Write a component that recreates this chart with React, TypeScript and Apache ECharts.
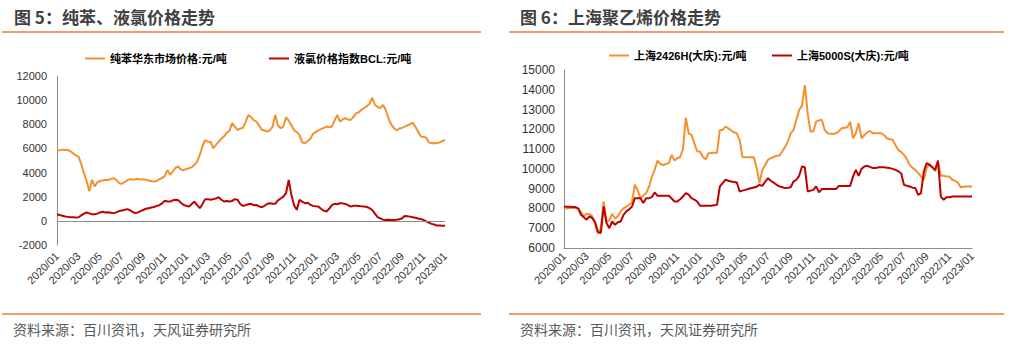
import React, { useEffect, useRef } from "react";
import * as echarts from "echarts";

// Tick labels (one per month, shown every second month)
const tickMonths = [
  "2020/01", "2020/02", "2020/03", "2020/04", "2020/05", "2020/06", "2020/07", "2020/08", "2020/09", "2020/10", "2020/11", "2020/12",
  "2021/01", "2021/02", "2021/03", "2021/04", "2021/05", "2021/06", "2021/07", "2021/08", "2021/09", "2021/10", "2021/11", "2021/12",
  "2022/01", "2022/02", "2022/03", "2022/04", "2022/05", "2022/06", "2022/07", "2022/08", "2022/09", "2022/10", "2022/11", "2022/12",
  "2023/01",
];
const weeksPerMonth = ["w1", "w2", "w3", "w4"];
// Weekly categories: 4 per month, ending on 2023/01
const categories: string[] = [];
tickMonths.forEach((m, i) => {
  if (i < tickMonths.length - 1) weeksPerMonth.forEach((w) => categories.push(m + "-" + w));
  else categories.push(m + "-w1");
});

// 图5 series (元/吨)
const benzene = [
  5820, 5850, 5900, 5870, 5880, 5750, 5600, 5420, 5320, 4700, 3950, 3300,
  2450, 3400, 2850, 3200, 3300, 3350, 3400, 3380, 3480, 3530, 3400, 3150,
  3060, 3200, 3350, 3450, 3430, 3450, 3480, 3420, 3450, 3400, 3350, 3300,
  3250, 3300, 3450, 3550, 3700, 4220, 3810, 4100, 4400, 4500, 4250, 4200,
  4300, 4360, 4450, 4640, 4900, 5460, 6200, 6700, 6550, 6560, 6010, 6300,
  6560, 6800, 7000, 7300, 7450, 8090, 7800, 7530, 7650, 7700, 8200, 8770,
  8600, 8350, 8220, 7900, 7550, 7480, 7400, 7500, 7800, 8770, 7900, 7670,
  7810, 8580, 8300, 7900, 7500, 7350, 7100, 6500, 6430, 6620, 6800, 7200,
  7350, 7500, 7600, 7700, 7810, 7750, 7810, 8300, 8770, 8220, 8400, 8500,
  8400, 8360, 8600, 8900, 9000, 9200, 9350, 9500, 9700, 10200, 9600, 9450,
  9330, 9600, 9200, 8500, 8000, 7700, 7500, 7650, 7700, 7800, 7900, 8000,
  8140, 7800, 7400, 7000, 6950, 6900, 6500, 6430, 6450, 6420, 6500, 6600,
  6700,
];
const chlorine = [
  550, 480, 420, 360, 330, 300, 290, 280, 300, 450, 600, 690,
  620, 550, 550, 600, 700, 750, 700, 720, 680, 640, 700, 800,
  850, 900, 970, 900, 750, 640, 700, 800, 900, 1000, 1050, 1100,
  1150, 1240, 1300, 1450, 1660, 1600, 1600, 1700, 1740, 1700, 1500, 1320,
  1250, 1180, 1400, 1600, 1300, 1050, 1400, 1800, 1800, 1750, 1800, 1850,
  1960, 1750, 1600, 1650, 1600, 1650, 1800, 1750, 1400, 1240, 1300, 1380,
  1410, 1300, 1320, 1200, 1130, 1250, 1400, 1460, 1420, 1410, 1700, 1850,
  2010, 2290, 3390, 2150, 1300, 910, 1740, 1600, 1460, 1500, 1350, 1240,
  1200, 1180, 1000, 850, 770, 1000, 1300, 1410, 1380, 1460, 1450, 1400,
  1300, 1180, 1250, 1250, 1240, 1200, 1180, 1150, 1050, 900, 600, 300,
  200, 100, 80, 90, 80, 80, 100, 140, 200, 410, 380, 350,
  300, 250, 200, 150, 80, -50, -150, -250, -300, -390, -390, -400,
  -400,
];

// 图6 series (元/吨)
const pe2426H = [
  8020, 8000, 8020, 8020, 8020, 8000, 7800, 7600, 7730, 7700, 7600, 7200,
  6760, 7000, 8350, 7340, 7400, 7730, 7500, 7600, 7850, 8000, 8100, 8200,
  8300, 9200, 8930, 8520, 8650, 8770, 9100, 9600, 9950, 10420, 10250, 10200,
  10250, 10290, 10710, 10420, 10540, 10600, 11000, 12590, 11800, 11720, 11300, 10880,
  10880, 10600, 10490, 10790, 10800, 10820, 10820, 11970, 11970, 12140, 12050, 11940,
  11850, 11800, 11470, 10590, 10590, 10590, 10590, 10590, 10040, 9280, 9950, 10200,
  10460, 10540, 10600, 10670, 10670, 10880, 11100, 11380, 11800, 11970, 12480, 12980,
  13200, 14240, 12810, 11890, 11900, 12390, 12450, 12480, 11970, 11800, 11780, 11760,
  11800, 11900, 12060, 12080, 12100, 12390, 11550, 11800, 12310, 11550, 11700, 11850,
  11920, 11800, 11800, 11800, 11800, 11700, 11550, 11500, 11470, 11200, 10960, 10850,
  10710, 10500, 10200, 10050, 9950, 9800, 9610, 9450, 10040, 10250, 10100, 9870,
  10370, 9650, 9650, 9610, 9610, 9450, 9400, 9310, 9070, 9100, 9110, 9110,
  9110,
];
const pe5000S = [
  8100, 8080, 8080, 8070, 8070, 8000, 7680, 7550, 7430, 7600, 7510, 7300,
  6800, 6760, 8100, 7260, 7000, 7340, 7170, 7300, 7340, 7680, 7850, 7950,
  8100, 8520, 8520, 8520, 8270, 8520, 8520, 8570, 8810, 8640, 8640, 8640,
  8640, 8640, 8500, 8350, 8350, 8470, 8600, 8770, 8700, 8520, 8450, 8350,
  8140, 8140, 8140, 8140, 8140, 8160, 8180, 9110, 9280, 9450, 9400, 9360,
  9340, 9310, 8860, 8900, 8940, 8980, 9020, 9060, 9100, 9190, 9140, 9350,
  9530, 9400, 9310, 9200, 9110, 9080, 9030, 9040, 9070, 9360, 9450, 9650,
  10120, 10080, 8860, 8900, 8940, 9110, 8810, 8980, 8980, 8980, 8980, 8980,
  8980, 9140, 9140, 9140, 9140, 9140, 9610, 9950, 9650, 10000, 10120, 10160,
  10100, 10040, 10040, 10080, 10080, 10080, 10060, 10040, 10000, 9950, 9870, 9780,
  9190, 9150, 9110, 9050, 9030, 8690, 8770, 9870, 10290, 10200, 10080, 9950,
  10420, 8600, 8440, 8570, 8570, 8600, 8600, 8600, 8600, 8600, 8600, 8600,
  8600,
];

const seriesNames = ["纯苯华东市场价格:元/吨", "液氯价格指数BCL:元/吨", "上海2426H(大庆):元/吨", "上海5000S(大庆):元/吨"];
const titles = ["图 5：纯苯、液氯价格走势", "图 6：上海聚乙烯价格走势"];
const sourceText = "资料来源：百川资讯，天风证券研究所";

const ORANGE = "#F5902E";
const RED = "#C00000";
const AXIS = "#8C8C8C";
const FONT = '"Liberation Sans", Arial, "Noto Sans CJK SC", sans-serif';

export default function App() {
  const ref = useRef<HTMLDivElement>(null);
  useEffect(() => {
    if (!ref.current) return;
    const chart = echarts.init(ref.current, null, { renderer: "svg" });
    const xAxisBase = (gridIndex: number, showLine: boolean, margin: number) => ({
      type: "category",
      gridIndex,
      data: categories,
      boundaryGap: false,
      axisTick: { show: false },
      axisLine: { show: showLine, onZero: false, lineStyle: { color: AXIS, width: 1 } },
      axisLabel: {
        interval: (i: number) => i % 8 === 0,
        rotate: 45,
        fontSize: 11,
        color: "#333",
        margin,
        fontFamily: FONT,
        formatter: (v: string) => v.split("-")[0],
      },
      splitLine: { show: false },
    });
    const legendBase = (name: string, left: number, top: number) => ({
      data: [name],
      left,
      top,
      icon: "rect",
      itemWidth: 20,
      itemHeight: 2,
      itemGap: 0,
      textStyle: { fontSize: 11, fontWeight: "bold", color: "#000", fontFamily: FONT },
    });
    const plain = (v: number) => String(v);
    const option = {
      animation: false,
      textStyle: { fontFamily: FONT },
      grid: [
        { left: 57, top: 76, width: 388, height: 169 },
        { left: 564, top: 70, width: 408, height: 178 },
      ],
      legend: [
        legendBase(seriesNames[0], 80, 48),
        legendBase(seriesNames[1], 264, 48),
        legendBase(seriesNames[2], 604, 45),
        legendBase(seriesNames[3], 767, 45),
      ],
      xAxis: [xAxisBase(0, false, 9), xAxisBase(1, true, 6)],
      yAxis: [
        {
          type: "value",
          gridIndex: 0,
          min: -2000,
          max: 12000,
          interval: 2000,
          axisLine: { show: true, lineStyle: { color: AXIS, width: 1 } },
          axisTick: { show: false },
          splitLine: { show: false },
          axisLabel: { fontSize: 11, color: "#333", margin: 10, fontFamily: FONT, formatter: plain },
        },
        {
          type: "value",
          gridIndex: 1,
          min: 6000,
          max: 15000,
          interval: 1000,
          axisLine: { show: true, lineStyle: { color: AXIS, width: 1 } },
          axisTick: { show: false },
          splitLine: { show: false },
          axisLabel: { fontSize: 12, color: "#333", margin: 9, fontFamily: FONT, formatter: plain },
        },
      ],
      series: [
        {
          name: seriesNames[0],
          type: "line",
          xAxisIndex: 0,
          yAxisIndex: 0,
          data: benzene,
          showSymbol: false,
          color: ORANGE,
          lineStyle: { width: 2, color: ORANGE },
          markLine: {
            silent: true,
            symbol: "none",
            label: { show: false },
            lineStyle: { color: AXIS, width: 1, type: "solid" },
            data: [{ yAxis: 0 }],
          },
        },
        {
          name: seriesNames[1],
          type: "line",
          xAxisIndex: 0,
          yAxisIndex: 0,
          data: chlorine,
          showSymbol: false,
          color: RED,
          lineStyle: { width: 2, color: RED },
        },
        {
          name: seriesNames[2],
          type: "line",
          xAxisIndex: 1,
          yAxisIndex: 1,
          data: pe2426H,
          showSymbol: false,
          color: ORANGE,
          lineStyle: { width: 2, color: ORANGE },
        },
        {
          name: seriesNames[3],
          type: "line",
          xAxisIndex: 1,
          yAxisIndex: 1,
          data: pe5000S,
          showSymbol: false,
          color: RED,
          lineStyle: { width: 2, color: RED },
        },
      ],
      graphic: [
        {
          type: "text",
          left: 14,
          top: 8,
          style: { text: titles[0], font: 'bold 17px "Noto Sans CJK SC", sans-serif', fill: "#404040" },
        },
        {
          type: "text",
          left: 520,
          top: 8,
          style: { text: titles[1], font: 'bold 17px "Noto Sans CJK SC", sans-serif', fill: "#404040" },
        },
        { type: "line", shape: { x1: 2, y1: 32, x2: 481, y2: 32 }, style: { stroke: "#ED7D31", lineWidth: 1.5 } },
        { type: "line", shape: { x1: 509, y1: 32, x2: 1004, y2: 32 }, style: { stroke: "#ED7D31", lineWidth: 1.5 } },
        { type: "line", shape: { x1: 2, y1: 314, x2: 481, y2: 314 }, style: { stroke: "#ED7D31", lineWidth: 1.5 } },
        { type: "line", shape: { x1: 509, y1: 314, x2: 1004, y2: 314 }, style: { stroke: "#ED7D31", lineWidth: 1.5 } },
        {
          type: "text",
          left: 13,
          top: 322,
          style: { text: sourceText, font: '14px "Noto Sans CJK SC", sans-serif', fill: "#595959" },
        },
        {
          type: "text",
          left: 520,
          top: 322,
          style: { text: sourceText, font: '14px "Noto Sans CJK SC", sans-serif', fill: "#595959" },
        },
      ],
    };
    chart.setOption(option as any);
    return () => chart.dispose();
  }, []);
  return (
    <div
      ref={ref}
      style={{ position: "absolute", left: 0, top: 0, width: 1013, height: 345, background: "#fff" }}
    />
  );
}
